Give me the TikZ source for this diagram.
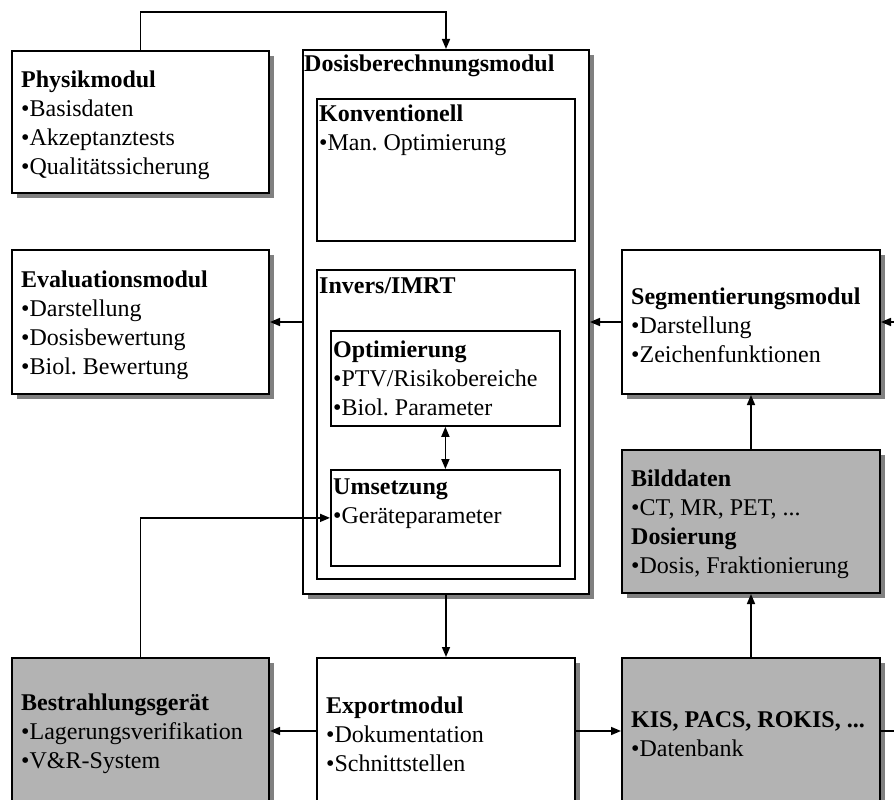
\documentclass[tikz,border=0pt]{standalone}
\usepackage{fontspec}
\setmainfont{Liberation Serif}
\usetikzlibrary{arrows.meta,shadows}
\definecolor{boxgray}{RGB}{179,179,179}
\definecolor{shadowgray}{RGB}{128,128,128}
\frenchspacing
\begin{document}
\begin{tikzpicture}[x=1pt,y=-1pt,
  font=\fontsize{24}{29}\selectfont,
  modbox/.style={draw, line width=2pt, fill=white, anchor=north west, inner sep=0pt,
    drop shadow={shadow xshift=5pt, shadow yshift=-5pt, fill=shadowgray, opacity=1}},
  greybox/.style={modbox, fill=boxgray},
  subbox/.style={draw, line width=1.8pt, anchor=north west, inner sep=0pt},
  boxtext/.style={anchor=west, inner sep=0pt, align=left, xshift=10pt, yshift=-3pt},
  lbl/.style={anchor=base west, inner sep=0pt},
  tip/.tip={Triangle[length=10pt,width=8pt]},
  conn/.style={line width=1.6pt, -tip},
  both/.style={line width=1.6pt, tip-tip}]
\useasboundingbox (0,0) rectangle (894,800);
\clip (0,0) rectangle (894,800);

% --- modules on the left ---
\node[modbox, minimum width=257pt, minimum height=142pt] (phys) at (11,50) {};
\node[boxtext] (physT) at (phys.west)
  {\textbf{Physikmodul}\\•Basisdaten\\•Akzeptanztests\\•Qualitätssicherung};
\node[modbox, minimum width=257pt, minimum height=144pt] (eval) at (11,249) {};
\node[boxtext] (evalT) at (eval.west)
  {\textbf{Evaluationsmodul}\\•Darstellung\\•Dosisbewertung\\•Biol. Bewertung};

% --- dose calculation module with its parts ---
\node[modbox, minimum width=286pt, minimum height=544pt] (dosis) at (302,49) {};
\node[lbl] (dosisT) at (304,72) {\textbf{Dosisberechnungsmodul}};

\node[subbox, minimum width=258pt, minimum height=142pt] (konv) at (316,98) {};
\node[lbl] (konvT) at (319,121) {\textbf{Konventionell}};
\node[lbl] (konvA) at (319,150) {•Man. Optimierung};

\node[subbox, minimum width=258pt, minimum height=309pt] (invers) at (316,269) {};
\node[lbl] (inversT) at (319,293) {\textbf{Invers/IMRT}};

\node[subbox, minimum width=229pt, minimum height=95pt] (opt) at (330,330) {};
\node[lbl] (optT) at (333,357) {\textbf{Optimierung}};
\node[lbl] (optA) at (333,386) {•PTV/Risikobereiche};
\node[lbl] (optB) at (333,415) {•Biol. Parameter};

\node[subbox, minimum width=229pt, minimum height=96pt] (ums) at (330,469) {};
\node[lbl] (umsT) at (333,494) {\textbf{Umsetzung}};
\node[lbl] (umsA) at (333,523) {•Geräteparameter};

% --- modules on the right ---
\node[modbox, minimum width=258pt, minimum height=144pt] (seg) at (621,249) {};
\node[boxtext] (segT) at (seg.west)
  {\textbf{Segmentierungsmodul}\\•Darstellung\\•Zeichenfunktionen};
\node[greybox, minimum width=258pt, minimum height=143pt] (bild) at (621,449) {};
\node[boxtext] (bildT) at (bild.west)
  {\textbf{Bilddaten}\\•CT, MR, PET, ...\\\textbf{Dosierung}\\•Dosis, Fraktionierung};

% --- bottom row ---
\node[greybox, minimum width=257pt, minimum height=146pt] (best) at (11,657) {};
\node[boxtext] (bestT) at (best.west)
  {\textbf{Bestrahlungsgerät}\\•Lagerungsverifikation\\•V\&R-System};
\node[modbox, minimum width=258pt, minimum height=146pt] (exp) at (316,657) {};
\node[boxtext] (expT) at (exp.west)
  {\textbf{Exportmodul}\\•Dokumentation\\•Schnittstellen};
\node[greybox, minimum width=258pt, minimum height=146pt] (kis) at (621,657) {};
\node[boxtext] (kisT) at (kis.west)
  {\textbf{KIS, PACS, ROKIS, ...}\\•Datenbank};

% --- connectors ---
\draw[conn] (phys.north) -- ++(0,-38) -| (dosis.north);
\draw[conn] (dosis.west) -- (eval.east);
\draw[conn] (seg.west) -- (dosis.east);
\draw[both] (opt.south) -- (ums.north);
\draw[conn] (best.north) |- (ums.west);
\draw[conn] (dosis.south) -- (exp.north);
\draw[conn] (exp.west) -- (best.east);
\draw[conn] (exp.east) -- (kis.west);
\draw[conn] (kis.north) -- (bild.south);
\draw[conn] (bild.north) -- (seg.south);
\draw[conn] (kis.east) -- ++(30,0) |- (seg.east);
\end{tikzpicture}
\end{document}
